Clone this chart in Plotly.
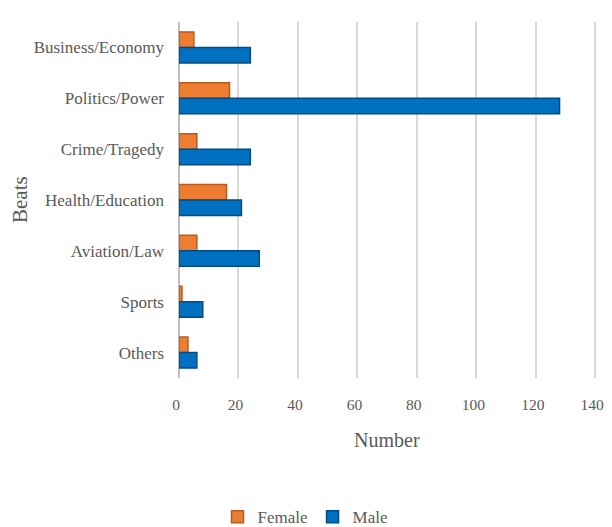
import plotly.graph_objects as go

categories = ["Business/Economy", "Politics/Power", "Crime/Tragedy", "Health/Education",
              "Aviation/Law", "Sports", "Others"]
female = [5, 17, 6, 16, 6, 1, 3]
male = [24, 128, 24, 21, 27, 8, 6]
x_ticks = [0, 20, 40, 60, 80, 100, 120, 140]

FONT = "Liberation Serif"
GRAY = "#595959"

fig = go.Figure()
fig.add_trace(go.Bar(y=categories, x=female, name="Female", orientation="h",
                     marker=dict(color="#ED7D31", line=dict(color="#B85A1E", width=1.5))))
fig.add_trace(go.Bar(y=categories, x=male, name="Male", orientation="h",
                     marker=dict(color="#0070C0", line=dict(color="#004C87", width=1.5))))

W, H = 604, 519
L, R, T, B = 171, 15, 14, 149

fig.update_layout(
    width=W, height=H,
    margin=dict(l=L, r=R, t=T, b=B, autoexpand=False),
    paper_bgcolor="white", plot_bgcolor="white",
    barmode="group", bargap=0.39, bargroupgap=0,
    font=dict(family=FONT, color=GRAY, size=15),
    showlegend=True,
    legend=dict(orientation="h", xref="paper", yref="container",
                x=(297 - L) / (W - L - R), xanchor="center", y=0.019, yanchor="middle",
                font=dict(size=17, family=FONT, color=GRAY),
                itemwidth=30, traceorder="normal", tracegroupgap=0),
    xaxis=dict(range=[0, 140.6], tickvals=x_ticks, ticktext=[str(v) for v in x_ticks],
               automargin=False, ticklabeloverflow="allow", ticklabelshift=-3,
               showgrid=True, gridcolor="#D9D9D9", gridwidth=1.5,
               zeroline=True, zerolinecolor="#BFBFBF", zerolinewidth=1.5,
               showline=False, ticks="", ticklabelstandoff=15,
               tickfont=dict(size=15.5, family=FONT, color=GRAY)),
    yaxis=dict(autorange="reversed", showgrid=False, showline=False, ticks="",
               automargin=False,
               ticklabelstandoff=14, tickfont=dict(size=17, family=FONT, color=GRAY)),
    annotations=[
        dict(text="Number", xref="paper", yref="paper", x=(379 - L) / (W - L - R),
             y=(H - 432 - B) / (H - T - B),
             xanchor="center", yanchor="middle", showarrow=False,
             font=dict(size=20, family=FONT, color=GRAY)),
        dict(text="Beats", xref="paper", yref="paper", x=(12 - L) / (W - L - R), y=0.5,
             xanchor="center", yanchor="middle", showarrow=False, textangle=-90,
             font=dict(size=21, family=FONT, color=GRAY)),
    ],
)

fig.write_html("out.html")
